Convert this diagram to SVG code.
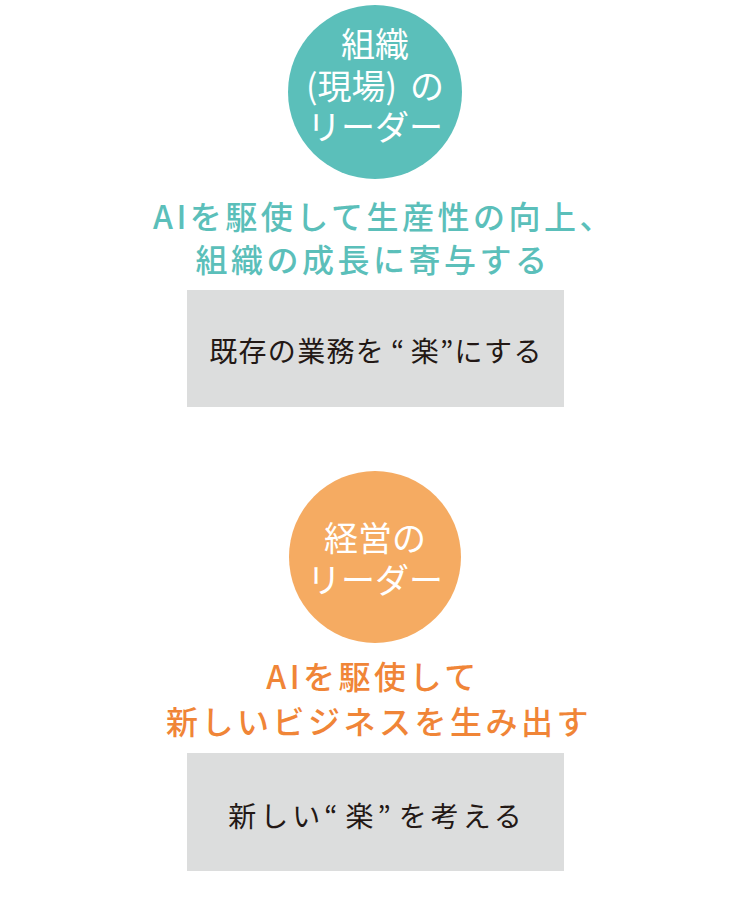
<svg xmlns="http://www.w3.org/2000/svg" width="750" height="900" viewBox="0 0 750 900">
<style>
text{font-family:"Noto Sans CJK JP","Noto Sans",sans-serif;text-anchor:middle}
.circ{fill:#ffffff;font-size:34px}
.hd{font-size:32px;font-weight:500;letter-spacing:3.5px}
.teal{fill:#5bbfba}
.org{fill:#f08537}
.box{fill:#dcdddd}
.bt{fill:#231815;font-size:28px}
</style>
<rect width="750" height="900" fill="#ffffff"/>
<g id="leader-genba">
<circle cx="375" cy="92" r="87" fill="#5bbfba"/>
<text class="circ" x="375" y="57">組織</text>
<text class="circ" x="375" y="99">(現場)<tspan dx="13">の</tspan></text>
<text class="circ" x="375" y="140">リーダー</text>
</g>
<g id="goal-genba">
<text class="hd teal" x="384" y="229">AIを駆使して生産性の向上、</text>
<text class="hd teal" x="373" y="272">組織の成長に寄与する</text>
</g>
<g id="box-genba">
<rect class="box" x="187" y="290" width="377" height="117"/>
<text class="bt" x="376" y="362" style="letter-spacing:1.3px">既存の業務を<tspan dx="6">“</tspan><tspan dx="5">楽</tspan>”にする</text>
</g>
<g id="leader-keiei">
<circle cx="375" cy="557" r="86" fill="#f5ab62"/>
<text class="circ" x="375" y="551">経営の</text>
<text class="circ" x="375" y="593">リーダー</text>
</g>
<g id="goal-keiei">
<text class="hd org" x="373" y="689">AIを駆使して</text>
<text class="hd org" x="379" y="734">新しいビジネスを生み出す</text>
</g>
<g id="box-keiei">
<rect class="box" x="187" y="753" width="377" height="118"/>
<text class="bt" x="377" y="827" style="letter-spacing:4px">新しい“<tspan dx="4">楽</tspan>”<tspan dx="4">を考える</tspan></text>
</g>
<g id="connectors"></g>
</svg>
